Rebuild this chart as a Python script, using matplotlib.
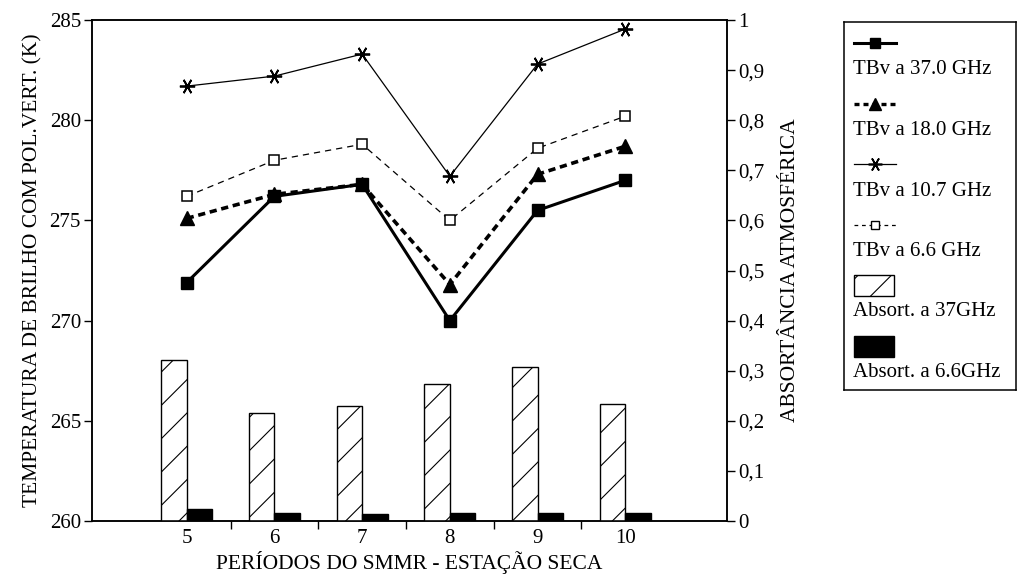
import matplotlib
matplotlib.use("Agg")
import matplotlib.pyplot as plt
from matplotlib.patches import Rectangle
from matplotlib.lines import Line2D
from matplotlib.ticker import FixedLocator, FuncFormatter

plt.rcParams['font.family'] = ['Liberation Serif', 'DejaVu Serif']
plt.rcParams['hatch.linewidth'] = 0.8

# ---- data ----
periods = [5, 6, 7, 8, 9, 10]
tb_37 = [271.9, 276.2, 276.8, 270.0, 275.5, 277.0]
tb_18 = [275.1, 276.3, 276.8, 271.8, 277.3, 278.7]
tb_107 = [281.7, 282.2, 283.3, 277.2, 282.8, 284.55]
tb_66 = [276.2, 278.0, 278.8, 275.0, 278.6, 280.2]
abs_37 = [0.321, 0.216, 0.230, 0.273, 0.308, 0.233]
abs_66 = [0.023, 0.016, 0.014, 0.015, 0.016, 0.015]

labels = ["TBv a 37.0 GHz", "TBv a 18.0 GHz", "TBv a 10.7 GHz",
          "TBv a 6.6 GHz", "Absort. a 37GHz", "Absort. a 6.6GHz"]
left_ticks = [260, 265, 270, 275, 280, 285]
right_ticks = [0, 0.1, 0.2, 0.3, 0.4, 0.5, 0.6, 0.7, 0.8, 0.9, 1.0]

FS = 15
W, H = 1017, 582
fig = plt.figure(figsize=(W / 100, H / 100), dpi=100)

axL, axR, axB, axT = 92, 727, 521, 20
ax = fig.add_axes([axL / W, 1 - axB / H, (axR - axL) / W, (axB - axT) / H])
ax2 = ax.twinx()

# bars on the right axis
bw = 0.29
ax2.bar([p - bw for p in periods], abs_37, width=bw, align='edge',
        facecolor='white', edgecolor='black', hatch='/', linewidth=1.0, zorder=1)
ax2.bar(periods, abs_66, width=bw, align='edge',
        facecolor='black', edgecolor='black', linewidth=1.0, zorder=1)

# lines on the left-axis scale, drawn on an overlay above the bars
ax3 = ax.twinx()
ax3.set_ylim(260, 285)
ax3.axis('off')
ax3.plot(periods, tb_37, color='black', lw=2.2, marker='s', ms=8,
         mfc='black', mec='black', clip_on=False)
ax3.plot(periods, tb_18, color='black', lw=2.6, ls=(0, (2.0, 1.3)),
         marker='^', ms=10, mfc='black', mec='black', clip_on=False)
ax3.plot(periods, tb_107, color='black', lw=0.9, marker=(6, 2, 90), ms=11,
         mew=1.3, mec='black', clip_on=False)
ax3.plot(periods, tb_66, color='black', lw=0.9, ls=(0, (5, 4)),
         marker='s', ms=7, mfc='white', mec='black', mew=1.1, clip_on=False)

xlim = (3.92, 11.16)
for a in (ax, ax2, ax3):
    a.set_xlim(*xlim)

ax.set_ylim(260, 285)
ax2.set_ylim(0, 1)

ax.set_yticks(left_ticks)
ax.set_yticklabels([str(t) for t in left_ticks])
ax2.set_yticks(right_ticks)
ax2.yaxis.set_major_formatter(FuncFormatter(
    lambda v, p: "0" if v == 0 else ("1" if v == 1 else ("%.1f" % v).replace('.', ','))))

ax.set_xticks(periods)
ax.set_xticklabels([str(p) for p in periods])
ax.xaxis.set_minor_locator(FixedLocator([5.5, 6.5, 7.5, 8.5, 9.5]))
ax.tick_params(axis='x', which='major', length=0, labelsize=FS, pad=6)
ax.tick_params(axis='x', which='minor', length=6, width=1, direction='out')
ax.tick_params(axis='y', length=6, width=1, labelsize=FS, direction='out', pad=2)
ax2.tick_params(axis='y', length=6, width=1, labelsize=FS, direction='out', pad=2)

for a in (ax, ax2):
    for s in a.spines.values():
        s.set_linewidth(1.1)

ax.set_xlabel("PERÍODOS DO SMMR - ESTAÇÃO SECA", fontsize=15.5, labelpad=2)
ax.set_ylabel("TEMPERATURA DE BRILHO COM POL.VERT. (K)", fontsize=15.5, labelpad=5)
ax2.set_ylabel("ABSORTÂNCIA ATMOSFÉRICA", fontsize=15.5, labelpad=12)

# ---- legend box ----
lgL, lgR, lgT, lgB = 844, 1016, 22, 390
lg = fig.add_axes([lgL / W, 1 - lgB / H, (lgR - lgL) / W, (lgB - lgT) / H])
lg.set_xlim(lgL, lgR)
lg.set_ylim(lgB, lgT)
lg.set_xticks([])
lg.set_yticks([])
for s in lg.spines.values():
    s.set_linewidth(1.1)

row = 60.5
txt_y0 = 70
hx0, hx1 = 854, 896
styles = [
    dict(color='black', lw=2.2, marker='s', ms=7, mfc='black'),
    dict(color='black', lw=2.4, ls=(0, (1.5, 1.2)), marker='^', ms=9, mfc='black'),
    dict(color='black', lw=0.9, marker=(6, 2, 90), ms=10, mew=1.2),
    dict(color='black', lw=0.9, ls=(0, (3, 3)), marker='s', ms=6, mfc='white', mew=1.0),
]
for i, lab in enumerate(labels):
    ty = txt_y0 + i * row
    hy = ty - 27
    if i < 4:
        lg.add_line(Line2D([hx0, (hx0 + hx1) / 2, hx1], [hy, hy, hy],
                           markevery=[1], **styles[i]))
    elif i == 4:
        lg.add_patch(Rectangle((hx0, hy - 10), 40, 21, facecolor='white',
                               edgecolor='black', hatch='/', lw=1.0))
    else:
        lg.add_patch(Rectangle((hx0, hy - 10), 40, 21, facecolor='black',
                               edgecolor='black', lw=1.0))
    lg.text(hx0 - 1, ty, lab, fontsize=FS, va='center', ha='left')

fig.savefig("out.png", dpi=100)
